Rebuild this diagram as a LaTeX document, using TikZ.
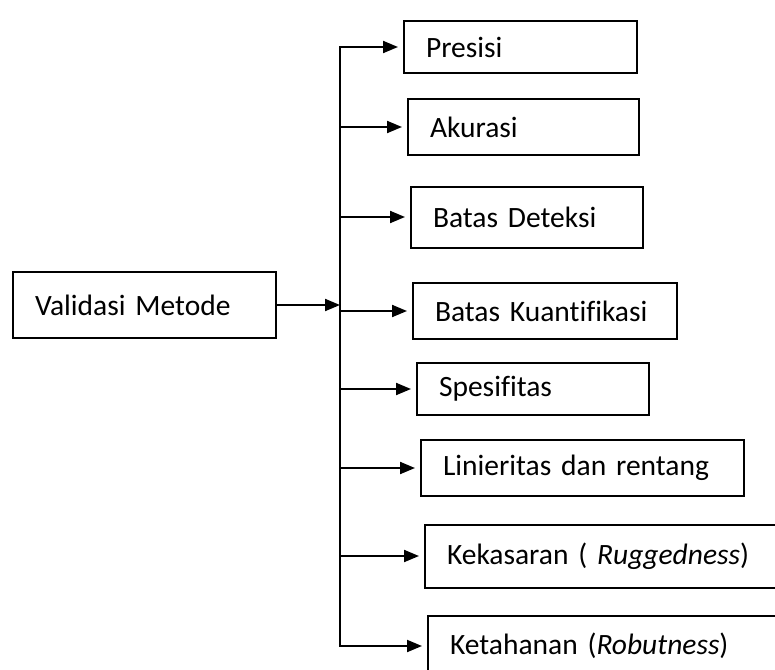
\documentclass[tikz,border=0pt]{standalone}
\usepackage{fontspec}
\setmainfont{Carlito}[Ligatures=NoCommon]
\usetikzlibrary{arrows.meta}
\tikzset{
  box/.style={draw, line width=2pt, anchor=west, inner xsep=22pt, inner ysep=0pt, align=left},
  link/.style={line width=2pt, shorten >=5pt, -{Triangle[length=15pt,width=12pt]}}
}
\begin{document}
\begin{tikzpicture}[x=1pt, y=-1pt, font=\fontsize{29.5}{34}\selectfont]
\clip (0,0) rectangle (775,669);
\node[box, text width=219pt, minimum height=66pt] (val) at (12,305) {Validasi Metode};

\node[box, text width=189pt, minimum height=52pt] (pre) at (403,47) {Presisi};
\node[box, text width=187pt, minimum height=56pt] (aku) at (407,127) {Akurasi};
\node[box, text width=188pt, minimum height=61pt] (det) at (410,217) {Batas Deteksi};
\node[box, text width=220pt, minimum height=56pt] (kua) at (412,311) {Batas Kuantifikasi};
\node[box, text width=188pt, minimum height=52pt] (spe) at (416,389) {Spesifitas};
\node[box, text width=279pt, minimum height=56pt] (lin) at (420,468) {Linieritas dan rentang};
\node[box, text width=356pt, minimum height=63pt] (kek) at (424,556) {Kekasaran ( \textit{Ruggedness})};
\node[box, text width=356pt, minimum height=60pt] (ket) at (427,646) {Ketahanan (\textit{Robutness})};

\coordinate (top) at (340,47);
\coordinate (bot) at (340,646);
\draw[line width=2pt, line cap=rect] (top) -- (bot);

\draw[link, shorten >=0pt] (val.east) -- (top |- val.east);
\draw[link] (top) -- (pre.west);
\draw[link] (top |- aku.west) -- (aku.west);
\draw[link] (top |- det.west) -- (det.west);
\draw[link] (top |- kua.west) -- (kua.west);
\draw[link] (top |- spe.west) -- (spe.west);
\draw[link] (top |- lin.west) -- (lin.west);
\draw[link] (top |- kek.west) -- (kek.west);
\draw[link] (bot) -- (ket.west);
\end{tikzpicture}
\end{document}
